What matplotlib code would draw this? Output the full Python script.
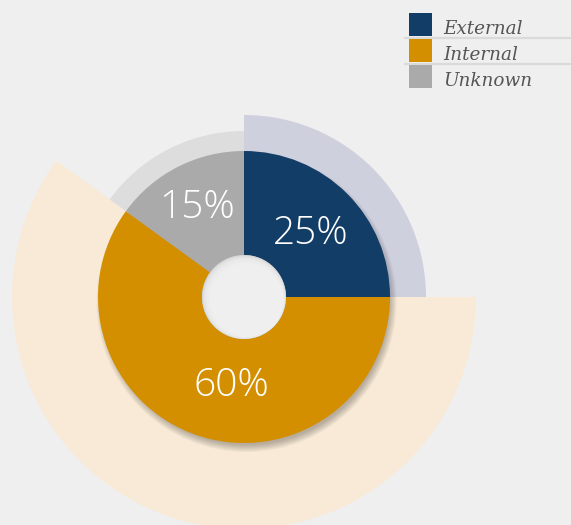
import numpy as np
import matplotlib
matplotlib.use('Agg')
import matplotlib.pyplot as plt
from matplotlib.patches import Wedge, Circle, Rectangle

categories = ['External', 'Internal', 'Unknown']
values = [25, 60, 15]
labels = ['25%', '60%', '15%']
outer_radius = [182, 232, 166]  # pale backdrop wedge radius per slice (px)

colors = ['#123d66', '#d38f00', '#aaaaaa']
pale_colors = ['#cfd0dd', '#f8ead6', '#dddddd']
BG = '#efefef'

W, H = 571, 525
fig = plt.figure(figsize=(W / 100, H / 100), dpi=100, facecolor=BG)
ax = fig.add_axes([0, 0, 1, 1])
ax.set_xlim(0, W)
ax.set_ylim(0, H)
ax.set_aspect('equal')
ax.axis('off')
ax.set_facecolor(BG)

cx, cy = 244, H - 297
R, r_hole = 146, 42

# slice angles, starting at top and going clockwise
ends = 90 - 360 * np.cumsum(values) / sum(values)
starts = np.concatenate([[90], ends[:-1]])

for s, e, rr, c in zip(starts, ends, outer_radius, pale_colors):
    ax.add_patch(Wedge((cx, cy), rr, e, s, facecolor=c, edgecolor='none', zorder=1))

# soft drop shadow, down and a bit to the right
for k in range(8):
    ax.add_patch(Circle((cx + 2.5, cy - 5), R + 4 - k, facecolor='#000000',
                        alpha=0.035, edgecolor='none', zorder=2))

for s, e, c in zip(starts, ends, colors):
    ax.add_patch(Wedge((cx, cy), R, e, s, width=R - r_hole, facecolor=c,
                       edgecolor='none', zorder=3))

# hole with inner shadow
ax.add_patch(Circle((cx, cy), r_hole, facecolor='#c9c9c9', edgecolor='none', zorder=4))
for k in range(8):
    ax.add_patch(Circle((cx + 0.3 * k, cy - 0.4 * k), r_hole - 0.6 * k, facecolor=BG,
                        alpha=0.35, edgecolor='none', zorder=4))
ax.add_patch(Circle((cx + 2.5, cy - 3), r_hole - 5, facecolor=BG, edgecolor='none', zorder=4))

mids = (starts + ends) / 2
lab_r = [94, 90, 103]
lab_shift = [0, 15, 0]
for m, rr, dx, t in zip(mids, lab_r, lab_shift, labels):
    x = cx + rr * np.cos(np.radians(m)) + dx
    y = cy + rr * np.sin(np.radians(m)) - 3
    ax.text(x, y, t, color='white', fontsize=28, fontfamily='Open Sans',
            fontweight='light', ha='center', va='center', zorder=5)

# legend
for i, (name, c) in enumerate(zip(categories, colors)):
    top = H - 13 - 26 * i
    ax.add_patch(Rectangle((409, top - 23), 23, 23, facecolor=c, edgecolor='none', zorder=5))
    ax.text(443, top - 16, name, fontsize=13.2, fontfamily='DejaVu Serif', style='italic',
            color='#555555', ha='left', va='center', zorder=5)
    if i < 2:
        ax.plot([405, W], [top - 24.5, top - 24.5], color='#dadada', lw=1.6, zorder=4)

plt.savefig('out.png', dpi=100, facecolor=BG)
